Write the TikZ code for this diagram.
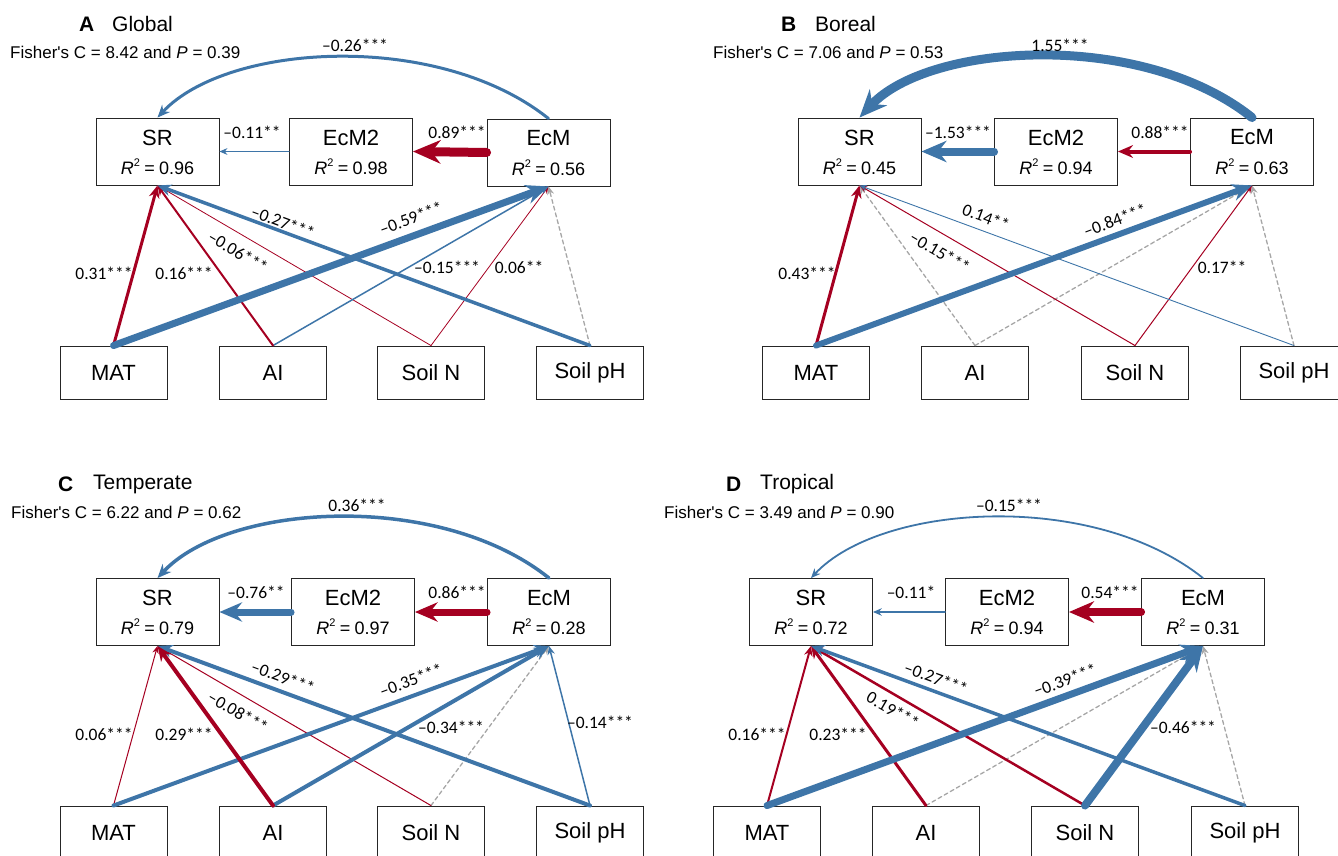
\documentclass[tikz,border=0pt]{standalone}
\usepackage{fontspec}
\setmainfont{Liberation Sans}
\newfontfamily\cfam{Carlito}
\newfontfamily\fisfam[Ligatures=TeXOff]{Liberation Sans}
\usetikzlibrary{arrows.meta}
\definecolor{cred}{HTML}{A50021}
\definecolor{cblue}{HTML}{3E75A8}
\definecolor{cgray}{HTML}{A6A6A6}
\newcommand\fLbl{\cfam\fontsize{17.5}{17.5}\selectfont}
\newcommand\fBox{\fontsize{22}{22}\selectfont}
\newcommand\fRsq{\fontsize{18}{18}\selectfont}
\newcommand\fBot{\fontsize{22}{22}\selectfont}
\newcommand\fFis{\fisfam\fontsize{17}{17}\selectfont}
\newcommand\fTit{\fontsize{21}{21}\selectfont}
\newcommand\Rsq[1]{{\itshape R}\raisebox{0.42em}{\fontsize{11}{11}\selectfont 2}\hspace{0.24em}=\hspace{0.24em}#1}
\newcommand\Fis[2]{Fisher's C = #1 and \textit{P} = #2}
\begin{document}
\begin{tikzpicture}[x=1pt,y=-1pt,
  topbox/.style={draw=black!85, line width=0.9pt, minimum width=123pt, minimum height=67pt, inner sep=0pt},
  botbox/.style={draw=black!85, line width=0.9pt, minimum width=107pt, minimum height=53pt, inner sep=0pt, font=\fBot},
  bname/.style={font=\fBox, inner sep=0pt},
  rsq/.style={font=\fRsq, inner sep=0pt},
  lab/.style={font=\fLbl, inner sep=0pt},
  tletter/.style={font=\fTit\bfseries, inner sep=0pt, anchor=west},
  tword/.style={font=\fTit, inner sep=0pt, anchor=west},
  fis/.style={font=\fFis, inner sep=0pt, anchor=west},
  con/.style={line cap=round, -{Stealth[length=5pt 2.5, width'=0pt 0.85]}},
  rd/.style={con, color=cred, line width=#1},
  bl/.style={con, color=cblue, line width=#1},
  gr/.style={con, color=cgray, line width=1.3pt, dash pattern=on 4pt off 3pt},
  curv/.style={con, color=cblue, line width=#1},
]
\useasboundingbox (0,0) rectangle (1338,856);
\clip (0,0) rectangle (1338,856);

% ================= Panel A =================
\node[tletter] (aT) at (79,24) {A};
\node[tword] (aTw) at (112,24) {Global};
\node[fis] (aF) at (10,52) {\Fis{8.42}{0.39}};
\node[topbox] (aSR) at (157.5,151.5) {};
\node[topbox] (aEcMb) at (351,151.5) {};
\node[topbox] (aEcM) at (548.5,152.5) {};
\node[bname] (aSRn) at (157.5,137.5) {SR};
\node[rsq] (aSRr) at (157.5,166.5) {\Rsq{0.96}};
\node[bname] (aEcMbn) at (351,137.5) {EcM2};
\node[rsq] (aEcMbr) at (351,166.5) {\Rsq{0.98}};
\node[bname] (aEcMn) at (548.5,138.5) {EcM};
\node[rsq] (aEcMr) at (548.5,167.5) {\Rsq{0.56}};
\node[botbox] (aMAT) at (113.5,372.5) {MAT};
\node[botbox] (aAI) at (273,372.5) {AI};
\node[botbox] (aN) at (431,372.5) {Soil N};
\node[botbox] (apH) at (590,372.5) {Soil pH};

\draw[curv=3pt] (aEcM.north) .. controls +(-110,-88) and +(70,-75) .. (aSR.north);
\draw[rd=9pt] (aEcM.west) -- (aEcMb.east);
\draw[bl=1.2pt] (aEcMb.west) -- (aSR.east);
\draw[gr] (apH.north) -- (aEcM.south);
\draw[rd=0.8pt] (aN.north) -- (aSR.south);
\draw[rd=0.8pt] (aN.north) -- (aEcM.south);
\draw[bl=1.5pt] (aAI.north) -- (aEcM.south);
\draw[rd=2pt] (aAI.north) -- (aSR.south);
\draw[bl=3.5pt] (apH.north) -- (aSR.south);
\draw[rd=3pt] (aMAT.north) -- (aSR.south);
\draw[bl=7pt] (aMAT.north) -- (aEcM.south);

\node[lab] (aL1) at (355,45) {–0.26***};
\node[lab] (aL2) at (252,132) {–0.11**};
\node[lab] (aL3) at (457,132) {0.89***};
\node[lab] (aL4) at (104,273) {0.31***};
\node[lab] (aL5) at (184,273) {0.16***};
\node[lab, rotate=-30.6] (aL6) at (238,252) {–0.06***};
\node[lab, rotate=-20.5] (aL7) at (283,222) {–0.27***};
\node[lab, rotate=20.1] (aL8) at (411,218) {–0.59***};
\node[lab] (aL9) at (447,267) {–0.15***};
\node[lab] (aL10) at (519,267) {0.06**};

% ================= Panel B =================
\node[tletter] (bT) at (781,24) {B};
\node[tword] (bTw) at (815,24) {Boreal};
\node[fis] (bF) at (713,52) {\Fis{7.06}{0.53}};
\node[topbox] (bSR) at (859.5,151.5) {};
\node[topbox] (bEcMb) at (1056,151.5) {};
\node[topbox] (bEcM) at (1252,151.5) {};
\node[bname] (bSRn) at (859.5,137.5) {SR};
\node[rsq] (bSRr) at (859.5,166.5) {\Rsq{0.45}};
\node[bname] (bEcMbn) at (1056,137.5) {EcM2};
\node[rsq] (bEcMbr) at (1056,166.5) {\Rsq{0.94}};
\node[bname] (bEcMn) at (1252,137.5) {EcM};
\node[rsq] (bEcMr) at (1252,166.5) {\Rsq{0.63}};
\node[botbox] (bMAT) at (816,372.5) {MAT};
\node[botbox] (bAI) at (975,372.5) {AI};
\node[botbox] (bN) at (1135,372.5) {Soil N};
\node[botbox] (bpH) at (1294,372.5) {Soil pH};

\draw[curv=9pt] (bEcM.north) .. controls +(-110,-88) and +(70,-75) .. (bSR.north);
\draw[rd=4pt] (bEcM.west) -- (bEcMb.east);
\draw[bl=8pt] (bEcMb.west) -- (bSR.east);
\draw[gr] (bAI.north) -- (bSR.south);
\draw[gr] (bAI.north) -- (bEcM.south);
\draw[gr] (bpH.north) -- (bEcM.south);
\draw[rd=1pt] (bN.north) -- (bSR.south);
\draw[rd=1pt] (bN.north) -- (bEcM.south);
\draw[bl=0.9pt] (bpH.north) -- (bSR.south);
\draw[rd=3pt] (bMAT.north) -- (bSR.south);
\draw[bl=6pt] (bMAT.north) -- (bEcM.south);

\node[lab] (bL1) at (1060,45) {1.55***};
\node[lab] (bL2) at (958,132) {–1.53***};
\node[lab] (bL3) at (1160,132) {0.88***};
\node[lab] (bL4) at (807,273) {0.43***};
\node[lab, rotate=-30.3] (bL5) at (940,252) {–0.15***};
\node[lab, rotate=-20.4] (bL6) at (986,217) {0.14**};
\node[lab, rotate=20.3] (bL7) at (1115,220) {–0.84***};
\node[lab] (bL8) at (1222,267) {0.17**};

% ================= Panel C =================
\node[tletter] (cT) at (58,484) {C};
\node[tword] (cTw) at (93,484) {Temperate};
\node[fis] (cF) at (11,512) {\Fis{6.22}{0.62}};
\node[topbox] (cSR) at (157.5,612) {};
\node[topbox] (cEcMb) at (353,612) {};
\node[topbox] (cEcM) at (549,612) {};
\node[bname] (cSRn) at (157.5,598) {SR};
\node[rsq] (cSRr) at (157.5,627) {\Rsq{0.79}};
\node[bname] (cEcMbn) at (353,598) {EcM2};
\node[rsq] (cEcMbr) at (353,627) {\Rsq{0.97}};
\node[bname] (cEcMn) at (549,598) {EcM};
\node[rsq] (cEcMr) at (549,627) {\Rsq{0.28}};
\node[botbox] (cMAT) at (113.5,832.5) {MAT};
\node[botbox] (cAI) at (273,832.5) {AI};
\node[botbox] (cN) at (431,832.5) {Soil N};
\node[botbox] (cpH) at (590,832.5) {Soil pH};

\draw[curv=3.5pt] (cEcM.north) .. controls +(-110,-88) and +(70,-75) .. (cSR.north);
\draw[rd=7pt] (cEcM.west) -- (cEcMb.east);
\draw[bl=7pt] (cEcMb.west) -- (cSR.east);
\draw[gr] (cN.north) -- (cEcM.south);
\draw[rd=1pt] (cMAT.north) -- (cSR.south);
\draw[rd=1pt] (cN.north) -- (cSR.south);
\draw[bl=1.5pt] (cpH.north) -- (cEcM.south);
\draw[bl=4pt] (cpH.north) -- (cSR.south);
\draw[bl=4pt] (cMAT.north) -- (cEcM.south);
\draw[bl=4pt] (cAI.north) -- (cEcM.south);
\draw[rd=4pt] (cAI.north) -- (cSR.south);

\node[lab] (cL1) at (357,505) {0.36***};
\node[lab] (cL2) at (256,592) {–0.76**};
\node[lab] (cL3) at (457,592) {0.86***};
\node[lab] (cL4) at (104,734) {0.06***};
\node[lab] (cL5) at (184,734) {0.29***};
\node[lab, rotate=-30.5] (cL6) at (238,712) {–0.08***};
\node[lab, rotate=-20.4] (cL7) at (283,677) {–0.29***};
\node[lab, rotate=20.2] (cL8) at (411,680) {–0.35***};
\node[lab] (cL9) at (451,727) {–0.34***};
\node[lab] (cL10) at (600,722) {–0.14***};

% ================= Panel D =================
\node[tletter] (dT) at (726,484) {D};
\node[tword] (dTw) at (760,484) {Tropical};
\node[fis] (dF) at (664,512) {\Fis{3.49}{0.90}};
\node[topbox] (dSR) at (811,612) {};
\node[topbox] (dEcMb) at (1007,612) {};
\node[topbox] (dEcM) at (1203,612) {};
\node[bname] (dSRn) at (811,598) {SR};
\node[rsq] (dSRr) at (811,627) {\Rsq{0.72}};
\node[bname] (dEcMbn) at (1007,598) {EcM2};
\node[rsq] (dEcMbr) at (1007,627) {\Rsq{0.94}};
\node[bname] (dEcMn) at (1203,598) {EcM};
\node[rsq] (dEcMr) at (1203,627) {\Rsq{0.31}};
\node[botbox] (dMAT) at (767,832.5) {MAT};
\node[botbox] (dAI) at (926,832.5) {AI};
\node[botbox] (dN) at (1085,832.5) {Soil N};
\node[botbox] (dpH) at (1245,832.5) {Soil pH};

\draw[curv=1.8pt] (dEcM.north) .. controls +(-110,-88) and +(70,-75) .. (dSR.north);
\draw[rd=8pt] (dEcM.west) -- (dEcMb.east);
\draw[bl=1.5pt] (dEcMb.west) -- (dSR.east);
\draw[gr] (dAI.north) -- (dEcM.south);
\draw[gr] (dpH.north) -- (dEcM.south);
\draw[rd=2pt] (dMAT.north) -- (dSR.south);
\draw[rd=3pt] (dAI.north) -- (dSR.south);
\draw[rd=2.5pt] (dN.north) -- (dSR.south);
\draw[bl=3.5pt] (dpH.north) -- (dSR.south);
\draw[bl=7pt] (dMAT.north) -- (dEcM.south);
\draw[bl=8pt] (dN.north) -- (dEcM.south);

\node[lab] (dL1) at (1009,505) {–0.15***};
\node[lab] (dL2) at (911,592) {–0.11*};
\node[lab] (dL3) at (1110,592) {0.54***};
\node[lab] (dL4) at (757,734) {0.16***};
\node[lab] (dL5) at (838,734) {0.23***};
\node[lab, rotate=-30.2] (dL6) at (893,710) {0.19***};
\node[lab, rotate=-20.2] (dL7) at (936,678) {–0.27***};
\node[lab, rotate=19.9] (dL8) at (1065,680) {–0.39***};
\node[lab] (dL9) at (1183,727) {–0.46***};
\end{tikzpicture}
\end{document}
